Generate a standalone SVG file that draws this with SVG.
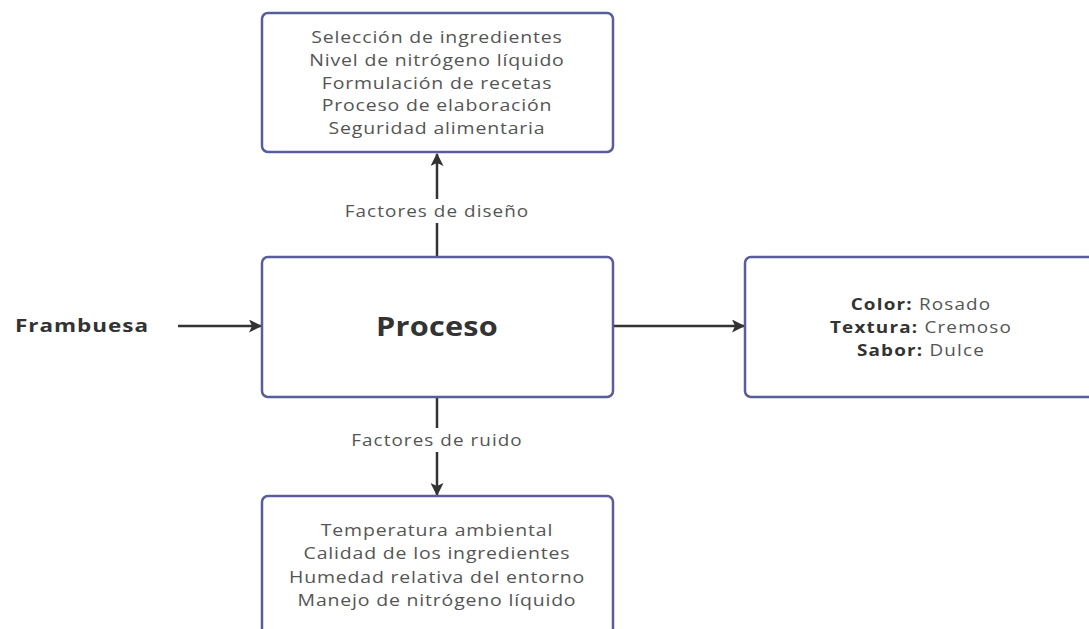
<svg xmlns="http://www.w3.org/2000/svg" width="1089" height="629" viewBox="0 0 1089 629">
  <style>
    .box { fill: #ffffff; stroke: #5a5d9c; stroke-width: 2.5; }
    .txt { font-family: "Open Sans", "DejaVu Sans", sans-serif; font-size: 16.5px; fill: #555555; text-anchor: middle; letter-spacing: 0.7px; }
    .lbl { font-family: "Open Sans", "DejaVu Sans", sans-serif; font-size: 16px; fill: #555555; text-anchor: middle; letter-spacing: 0.9px; }
    .attr { font-size: 16px; letter-spacing: 1px; }
    .bold { font-weight: bold; fill: #333333; }
    .edge { stroke: #333333; stroke-width: 2.5; fill: none; marker-end: url(#arrow); }
  </style>
  <defs>
    <marker id="arrow" viewBox="0 0 13 13" refX="12" refY="6.5" markerWidth="13" markerHeight="13" markerUnits="userSpaceOnUse" orient="auto">
      <path d="M0,0 L13,6.5 L0,13 L3,6.5 Z" fill="#333333"/>
    </marker>
  </defs>
  <rect width="1089" height="629" fill="#ffffff"/>

  <!-- connectors -->
  <g id="connectors">
    <path class="edge" d="M178,326 L261,326"/>
    <path class="edge" d="M614,326 L744,326"/>
    <path class="edge" d="M437,256 L437,154"/>
    <path class="edge" d="M437,398 L437,495"/>
    <rect x="338" y="199" width="198" height="24" fill="#ffffff"/>
    <rect x="343" y="428" width="188" height="24" fill="#ffffff"/>
    <g transform="translate(437,0) scale(1.18,1)">
      <text class="lbl" x="0" y="217">Factores de diseño</text>
      <text class="lbl" x="0" y="446">Factores de ruido</text>
    </g>
  </g>

  <!-- design factors -->
  <g id="design-factors">
    <rect class="box" x="262" y="13" width="351" height="139" rx="6"/>
    <g transform="translate(437,0) scale(1.18,1)">
      <text class="txt" x="0" y="43">Selección de ingredientes</text>
      <text class="txt" x="0" y="66">Nivel de nitrógeno líquido</text>
      <text class="txt" x="0" y="89">Formulación de recetas</text>
      <text class="txt" x="0" y="111">Proceso de elaboración</text>
      <text class="txt" x="0" y="134">Seguridad alimentaria</text>
    </g>
  </g>

  <!-- input -->
  <g id="input">
    <g transform="translate(82,0) scale(1.25,1)">
      <text class="txt bold" x="0" y="332" style="font-size:18px;letter-spacing:0.8px">Frambuesa</text>
    </g>
  </g>

  <!-- process -->
  <g id="process">
    <rect class="box" x="262" y="257" width="351" height="140" rx="6"/>
    <g transform="translate(437,0) scale(1.18,1)">
      <text class="txt bold" x="0" y="336" style="font-size:26px;letter-spacing:0.2px">Proceso</text>
    </g>
  </g>

  <!-- outputs -->
  <g id="outputs">
    <rect class="box" x="745" y="257" width="360" height="140" rx="6"/>
    <g transform="translate(921,0) scale(1.18,1)">
      <text class="txt attr" x="0" y="310"><tspan class="bold">Color:</tspan> Rosado</text>
      <text class="txt attr" x="0" y="333"><tspan class="bold">Textura:</tspan> Cremoso</text>
      <text class="txt attr" x="0" y="356"><tspan class="bold">Sabor:</tspan> Dulce</text>
    </g>
  </g>

  <!-- noise factors -->
  <g id="noise-factors">
    <rect class="box" x="262" y="496" width="351" height="150" rx="6"/>
    <g transform="translate(437,0) scale(1.18,1)">
      <text class="txt" x="0" y="536">Temperatura ambiental</text>
      <text class="txt" x="0" y="559">Calidad de los ingredientes</text>
      <text class="txt" x="0" y="583">Humedad relativa del entorno</text>
      <text class="txt" x="0" y="606">Manejo de nitrógeno líquido</text>
    </g>
  </g>
</svg>
